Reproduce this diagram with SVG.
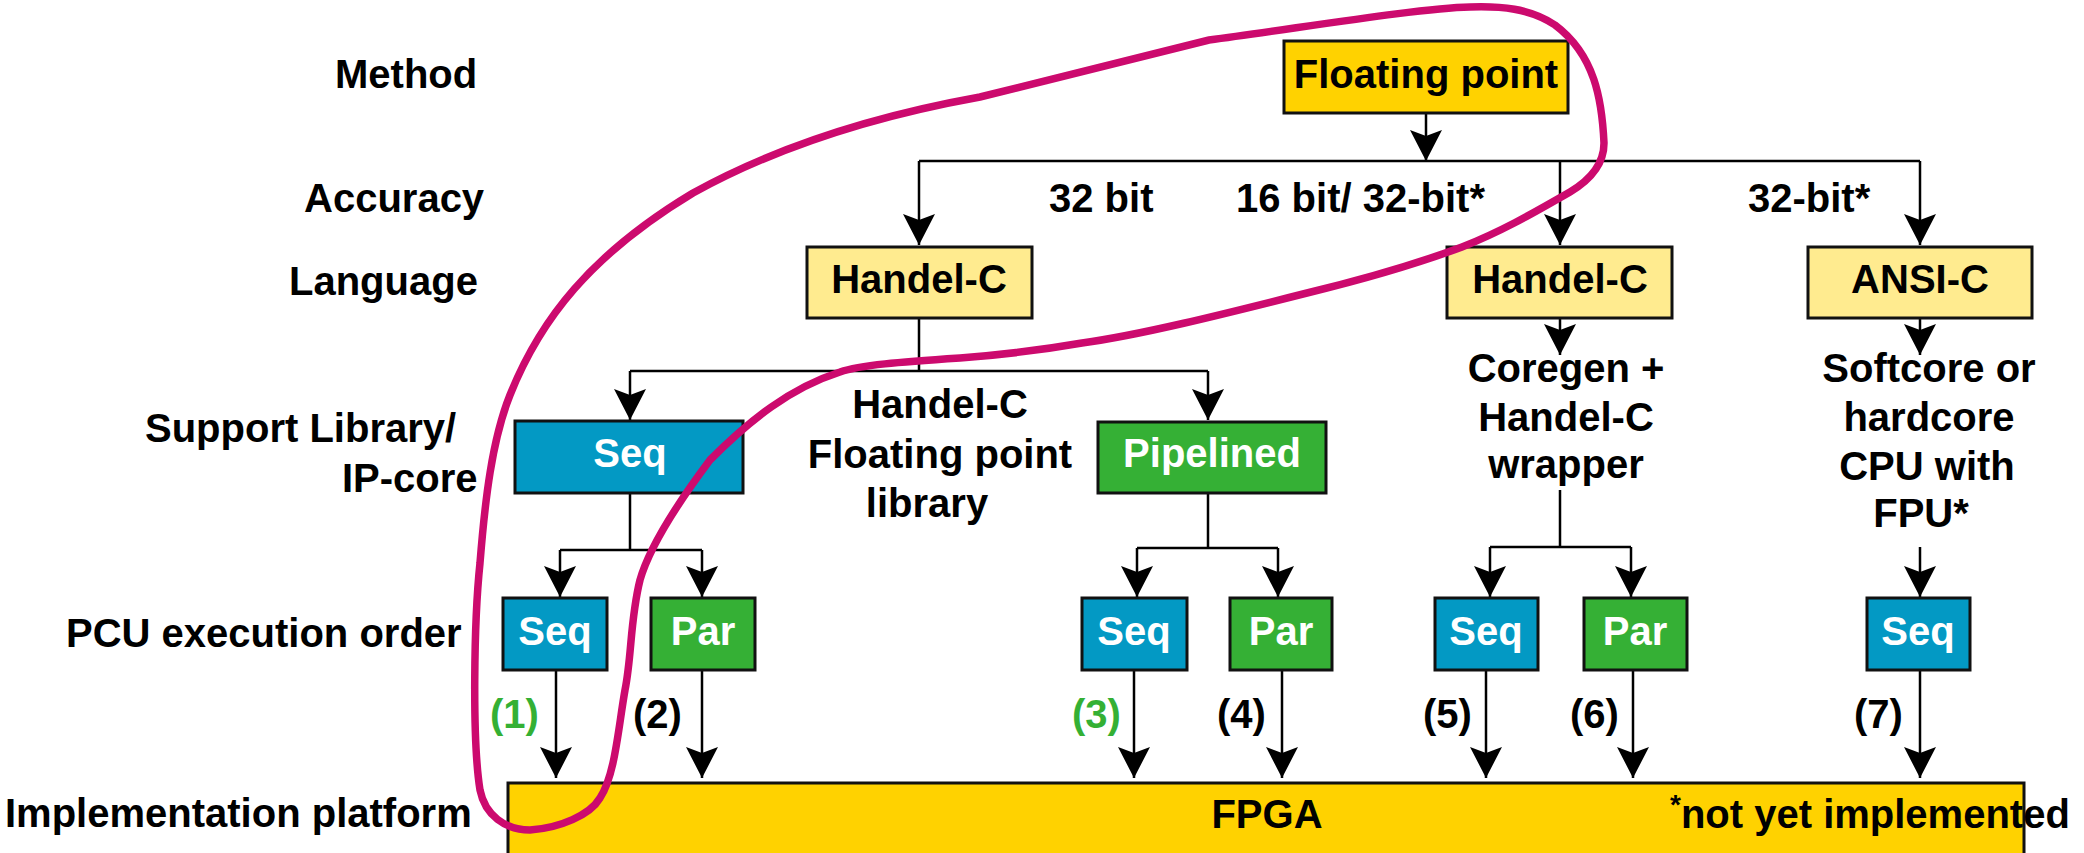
<svg xmlns="http://www.w3.org/2000/svg" width="2084" height="853" viewBox="0 0 2084 853">
<defs>
<style>
text{font-family:"Liberation Sans",Arial,sans-serif;font-weight:bold;font-size:40px;fill:#000}
.c{text-anchor:middle}
.w{fill:#fff}
.g{fill:#34b034}
.box{stroke:#111;stroke-width:3}
.fp{fill:#ffd200}
.ly{fill:#ffeb8f}
.bl{fill:#0399c4}
.gr{fill:#35b035}
.ln{fill:none;stroke:#000;stroke-width:2.5}
.ar{marker-end:url(#ah)}
</style>
<marker id="ah" markerUnits="userSpaceOnUse" markerWidth="36" markerHeight="36" viewBox="-32 -18 36 36" refX="0" refY="0" orient="auto">
<path d="M0,0 L-31,-16 L-25,0 L-31,16 Z" fill="#000"/>
</marker>
</defs>
<rect width="2084" height="853" fill="#fff"/>

<g id="level-labels">
<text x="335" y="88">Method</text>
<text x="304" y="212">Accuracy</text>
<text x="289" y="295">Language</text>
<text x="145" y="442">Support Library/</text>
<text x="342" y="492">IP-core</text>
<text x="66" y="647">PCU execution order</text>
<text x="5" y="827">Implementation platform</text>
</g>

<g id="connectors">
<path class="ln ar" d="M1426,113 V161"/>
<path class="ln" d="M919,161 H1920"/>
<path class="ln ar" d="M919,161 V245"/>
<path class="ln ar" d="M1560,161 V245"/>
<path class="ln ar" d="M1920,161 V245"/>
<path class="ln ar" d="M1560,318 V355"/>
<path class="ln ar" d="M1920,318 V355"/>
<path class="ln" d="M919,319 V371 M630,371 H1208"/>
<path class="ln ar" d="M630,371 V420"/>
<path class="ln ar" d="M1208,371 V420"/>
<path class="ln" d="M630,493 V550 M560,550 H702"/>
<path class="ln ar" d="M560,550 V597"/>
<path class="ln ar" d="M702,550 V597"/>
<path class="ln" d="M1208,493 V548 M1137,548 H1278"/>
<path class="ln ar" d="M1137,548 V597"/>
<path class="ln ar" d="M1278,548 V597"/>
<path class="ln" d="M1560,490 V547 M1490,547 H1631"/>
<path class="ln ar" d="M1490,547 V597"/>
<path class="ln ar" d="M1631,547 V597"/>
<path class="ln ar" d="M1920,547 V597"/>
<path class="ln ar" d="M556,670 V778"/>
<path class="ln ar" d="M702,670 V778"/>
<path class="ln ar" d="M1134,670 V778"/>
<path class="ln ar" d="M1282,670 V778"/>
<path class="ln ar" d="M1486,670 V778"/>
<path class="ln ar" d="M1633,670 V778"/>
<path class="ln ar" d="M1920,670 V778"/>
</g>

<g id="edge-labels">
<text x="1049" y="212">32 bit</text>
<text x="1236" y="212">16 bit/ 32-bit*</text>
<text x="1748" y="212">32-bit*</text>
<text class="c" x="940" y="418">Handel-C</text>
<text class="c" x="940" y="468">Floating point</text>
<text class="c" x="927" y="517">library</text>
<text class="c" x="1566" y="382">Coregen +</text>
<text class="c" x="1566" y="431">Handel-C</text>
<text class="c" x="1566" y="478">wrapper</text>
<text class="c" x="1929" y="382">Softcore or</text>
<text class="c" x="1929" y="431">hardcore</text>
<text class="c" x="1927" y="480">CPU with</text>
<text class="c" x="1921" y="527">FPU*</text>
<text class="g" x="490" y="728">(1)</text>
<text x="633" y="728">(2)</text>
<text class="g" x="1072" y="728">(3)</text>
<text x="1217" y="728">(4)</text>
<text x="1423" y="728">(5)</text>
<text x="1570" y="728">(6)</text>
<text x="1854" y="728">(7)</text>
</g>

<g id="node-floating-point">
<rect class="box fp" x="1284" y="41" width="284" height="72"/>
<text class="c" x="1426" y="88">Floating point</text>
</g>
<g id="node-handelc-1">
<rect class="box ly" x="807" y="247" width="225" height="71"/>
<text class="c" x="919" y="293">Handel-C</text>
</g>
<g id="node-handelc-2">
<rect class="box ly" x="1447" y="247" width="225" height="71"/>
<text class="c" x="1560" y="293">Handel-C</text>
</g>
<g id="node-ansic">
<rect class="box ly" x="1808" y="247" width="224" height="71"/>
<text class="c" x="1920" y="293">ANSI-C</text>
</g>
<g id="node-seq-lib">
<rect class="box bl" x="515" y="421" width="228" height="72"/>
<text class="c w" x="630" y="467">Seq</text>
</g>
<g id="node-pipelined">
<rect class="box gr" x="1098" y="422" width="228" height="71"/>
<text class="c w" x="1212" y="467">Pipelined</text>
</g>
<g id="node-seq-1">
<rect class="box bl" x="503" y="598" width="104" height="72"/>
<text class="c w" x="555" y="645">Seq</text>
</g>
<g id="node-par-2">
<rect class="box gr" x="651" y="598" width="104" height="72"/>
<text class="c w" x="703" y="645">Par</text>
</g>
<g id="node-seq-3">
<rect class="box bl" x="1082" y="598" width="105" height="72"/>
<text class="c w" x="1134" y="645">Seq</text>
</g>
<g id="node-par-4">
<rect class="box gr" x="1230" y="598" width="102" height="72"/>
<text class="c w" x="1281" y="645">Par</text>
</g>
<g id="node-seq-5">
<rect class="box bl" x="1435" y="598" width="103" height="72"/>
<text class="c w" x="1486" y="645">Seq</text>
</g>
<g id="node-par-6">
<rect class="box gr" x="1584" y="598" width="103" height="72"/>
<text class="c w" x="1635" y="645">Par</text>
</g>
<g id="node-seq-7">
<rect class="box bl" x="1867" y="598" width="103" height="72"/>
<text class="c w" x="1918" y="645">Seq</text>
</g>
<g id="node-fpga">
<rect class="box fp" x="508" y="783" width="1516" height="80"/>
<text class="c" x="1267" y="828">FPGA</text>
<text x="1670" y="828"><tspan font-size="28" dy="-14">*</tspan><tspan dy="14">not yet implemented</tspan></text>
</g>

<g id="highlight">
<path d="M530,830 C505,830 485,815 480,790 C472,740 474,620 480,563 C485,500 492,440 510,395 C540,320 590,255 693,193 C780,145 880,115 980,97 L1209,40 C1300,28 1420,8 1470,7 C1500,6 1530,8 1555,25 C1595,55 1602,100 1604,143 C1604,165 1590,180 1570,192 C1530,215 1500,232 1462,247 C1400,270 1340,285 1307,293 C1220,315 1140,335 1082,343 C1030,352 1000,355 960,358 C900,362 860,365 840,372 C790,388 750,420 710,460 C680,500 650,545 640,580 C630,620 632,655 625,690 C618,730 615,775 600,798 C590,815 560,828 530,830 Z" fill="none" stroke="#cc0a6e" stroke-width="7.5"/>
</g>
</svg>
